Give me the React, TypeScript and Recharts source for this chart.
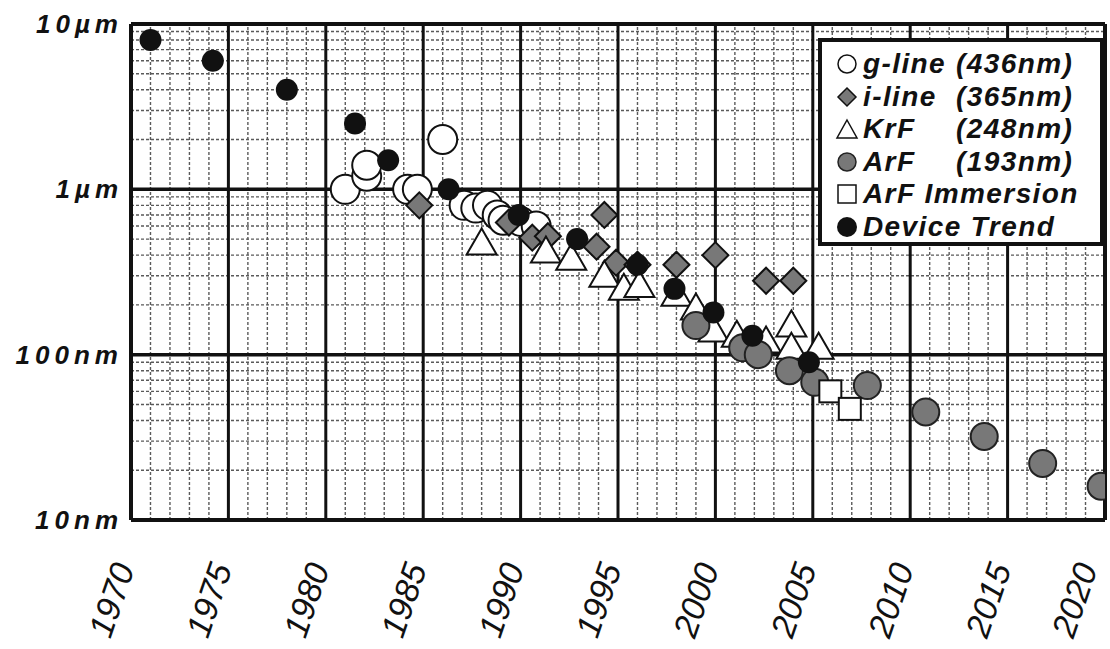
import { ScatterChart, Scatter, XAxis, YAxis, ReferenceLine, Legend } from "recharts"

// year, feature size in nm
const gLine: [number, number][] = [
  [1981.0, 1000], [1982.1, 1200], [1982.1, 1400], [1984.2, 1000], [1984.7, 1000],
  [1986.0, 2000], [1987.1, 800], [1987.7, 770], [1988.3, 800], [1988.8, 700],
  [1989.1, 650], [1990.0, 640], [1990.8, 600],
]
const iLine: [number, number][] = [
  [1984.8, 800], [1989.4, 630], [1990.6, 510], [1991.4, 520], [1993.9, 450],
  [1994.3, 700], [1994.9, 360], [1996.0, 350], [1998.0, 350], [2000.0, 400],
  [2002.6, 280], [2004.0, 280],
]
const krf: [number, number][] = [
  [1988.0, 470], [1991.3, 420], [1992.6, 380], [1994.3, 300], [1995.3, 250],
  [1996.1, 260], [1998.0, 230], [1999.0, 190], [1999.9, 140], [2001.1, 130],
  [2002.6, 120], [2003.9, 150], [2003.9, 110], [2005.3, 110],
]
const arf: [number, number][] = [
  [1999.0, 150], [2001.4, 110], [2002.2, 100], [2003.8, 80], [2005.1, 68],
  [2007.8, 65], [2010.8, 45], [2013.8, 32], [2016.8, 22], [2019.8, 16],
]
const arfImmersion: [number, number][] = [[2005.9, 60], [2006.9, 47]]
const deviceTrend: [number, number][] = [
  [1971.0, 8000], [1974.2, 6000], [1978.0, 4000], [1981.5, 2500], [1983.2, 1500],
  [1986.3, 1000], [1989.9, 700], [1992.9, 500], [1996.0, 350], [1997.9, 250],
  [1999.9, 180], [2001.9, 130], [2004.8, 90],
]

const yearTicks = [1970, 1975, 1980, 1985, 1990, 1995, 2000, 2005, 2010, 2015, 2020]
const sizeTicks = [10, 100, 1000, 10000]
const sizeTickLabels = ["10nm", "100nm", "1µm", "10µm"]

const seriesNames = ["g-line", "i-line", "KrF", "ArF", "ArF Immersion", "Device Trend"]
const seriesWaves = ["(436nm)", "(365nm)", "(248nm)", "(193nm)", "", ""]

const toPoints = (rows: [number, number][]) => rows.map(([year, nm]) => ({ year, nm }))

// grid helpers
const minorYears: number[] = []
for (let y = 1971; y < 2020; y++) if (y % 5 !== 0) minorYears.push(y)
const majorYears = yearTicks.slice(1, -1)
const minorSizes: number[] = []
for (const d of [10, 100, 1000]) for (let k = 2; k <= 9; k++) minorSizes.push(d * k)

const FONT = "'Liberation Sans', Arial, sans-serif"
const GREY = "#787878"

const OpenCircle = (p: any) => (
  <circle cx={p.cx} cy={p.cy} r={14.5} fill="#fff" stroke="#111" strokeWidth={2} />
)
const Diamond = (p: any) => {
  const r = 13
  return (
    <polygon
      points={`${p.cx},${p.cy - r} ${p.cx + r},${p.cy} ${p.cx},${p.cy + r} ${p.cx - r},${p.cy}`}
      fill={GREY}
      stroke="#111"
      strokeWidth={2}
    />
  )
}
const Triangle = (p: any) => (
  <polygon
    points={`${p.cx},${p.cy - 15} ${p.cx + 15},${p.cy + 11} ${p.cx - 15},${p.cy + 11}`}
    fill="#fff"
    stroke="#111"
    strokeWidth={2}
  />
)
const GreyDot = (p: any) => (
  <circle cx={p.cx} cy={p.cy} r={13.5} fill={GREY} stroke="#222" strokeWidth={2} />
)
const Square = (p: any) => (
  <rect x={p.cx - 11} y={p.cy - 11} width={22} height={22} fill="#fff" stroke="#111" strokeWidth={2} />
)
const BlackDot = (p: any) => <circle cx={p.cx} cy={p.cy} r={11} fill="#111" />

function LegendSymbol({ i }: { i: number }) {
  const c = 12
  return (
    <svg width={24} height={24} style={{ position: "absolute", left: 13, top: 4 }}>
      {i === 0 && <circle cx={c} cy={c} r={9} fill="#fff" stroke="#111" strokeWidth={1.5} />}
      {i === 1 && (
        <polygon points={`${c},${c - 9} ${c + 9},${c} ${c},${c + 9} ${c - 9},${c}`} fill={GREY} stroke="#111" strokeWidth={1.5} />
      )}
      {i === 2 && (
        <polygon points={`${c},${c - 9} ${c + 10},${c + 9} ${c - 10},${c + 9}`} fill="#fff" stroke="#111" strokeWidth={1.5} />
      )}
      {i === 3 && <circle cx={c} cy={c} r={9} fill={GREY} stroke="#222" strokeWidth={1.5} />}
      {i === 4 && <rect x={c - 9} y={c - 9} width={18} height={18} fill="#fff" stroke="#111" strokeWidth={1.5} />}
      {i === 5 && <circle cx={c} cy={c} r={10} fill="#111" />}
    </svg>
  )
}

function renderLegend() {
  return (
    <div
      style={{
        width: 286,
        height: 208,
        boxSizing: "border-box",
        border: "4px solid #111",
        background: "#fff",
        paddingTop: 6,
        fontFamily: FONT,
        fontWeight: "bold",
        fontStyle: "italic",
        fontSize: 28,
        letterSpacing: 1.4,
        color: "#111",
      }}
    >
      {seriesNames.map((name, i) => (
        <div key={name} style={{ position: "relative", height: 32.5, lineHeight: "32px" }}>
          <LegendSymbol i={i} />
          <span style={{ position: "absolute", left: 41 }}>{name}</span>
          <span style={{ position: "absolute", left: 134 }}>{seriesWaves[i]}</span>
        </div>
      ))}
    </div>
  )
}

const YearTick = (p: any) => (
  <text
    transform={`translate(${p.x + 4}, ${p.y + 46}) rotate(-71)`}
    textAnchor="end"
    fontFamily={FONT}
    fontStyle="italic"
    fontSize={34}
    fill="#111"
  >
    {p.payload.value}
  </text>
)

const SizeTick = (p: any) => (
  <text
    x={p.x}
    y={p.y}
    dy={9}
    textAnchor="end"
    fontFamily={FONT}
    fontWeight="bold"
    fontStyle="italic"
    fontSize={26}
    letterSpacing={5}
    fill="#111"
  >
    {sizeTickLabels[sizeTicks.indexOf(p.payload.value)]}
  </text>
)

export default function App() {
  return (
    <div style={{ position: "absolute", left: 0, top: 0, width: 1110, height: 649, background: "#fff" }}>
      <ScatterChart width={1110} height={649} margin={{ top: 24, right: 5, bottom: 0, left: 0 }}>
        <XAxis
          type="number"
          dataKey="year"
          domain={[1970, 2020]}
          ticks={yearTicks}
          tick={<YearTick />}
          tickLine={false}
          axisLine={false}
          tickSize={0}
          height={129}
          allowDataOverflow
        />
        <YAxis
          type="number"
          dataKey="nm"
          scale="log"
          domain={[10, 10000]}
          ticks={sizeTicks}
          tick={<SizeTick />}
          tickLine={false}
          axisLine={false}
          tickSize={0}
          tickMargin={8}
          width={131}
          allowDataOverflow
        />
        {minorYears.map((v) => (
          <ReferenceLine key={`mx${v}`} x={v} stroke="#5a5a5a" strokeWidth={1.4} strokeDasharray="3 2" />
        ))}
        {minorSizes.map((v) => (
          <ReferenceLine key={`my${v}`} y={v} stroke="#5a5a5a" strokeWidth={1.4} strokeDasharray="3 2" />
        ))}
        {majorYears.map((v) => (
          <ReferenceLine key={`Mx${v}`} x={v} stroke="#111" strokeWidth={3} />
        ))}
        <ReferenceLine y={100} stroke="#111" strokeWidth={3.5} />
        <ReferenceLine y={1000} stroke="#111" strokeWidth={3.5} />
        <ReferenceLine x={1970} stroke="#111" strokeWidth={4} />
        <ReferenceLine x={2020} stroke="#111" strokeWidth={4} />
        <ReferenceLine y={10} stroke="#111" strokeWidth={4} />
        <ReferenceLine y={10000} stroke="#111" strokeWidth={4} />

        <Scatter name="g-line" data={toPoints(gLine)} shape={OpenCircle} isAnimationActive={false} />
        <Scatter name="i-line" data={toPoints(iLine)} shape={Diamond} isAnimationActive={false} />
        <Scatter name="KrF" data={toPoints(krf)} shape={Triangle} isAnimationActive={false} />
        <Scatter name="ArF" data={toPoints(arf)} shape={GreyDot} isAnimationActive={false} />
        <Scatter name="ArF Immersion" data={toPoints(arfImmersion)} shape={Square} isAnimationActive={false} />
        <Scatter name="Device Trend" data={toPoints(deviceTrend)} shape={BlackDot} isAnimationActive={false} />

        <Legend
          layout="vertical"
          align="center"
          verticalAlign="middle"
          content={renderLegend}
          wrapperStyle={{ left: 818, top: 38, width: 286, height: 208 }}
        />
      </ScatterChart>
    </div>
  )
}
